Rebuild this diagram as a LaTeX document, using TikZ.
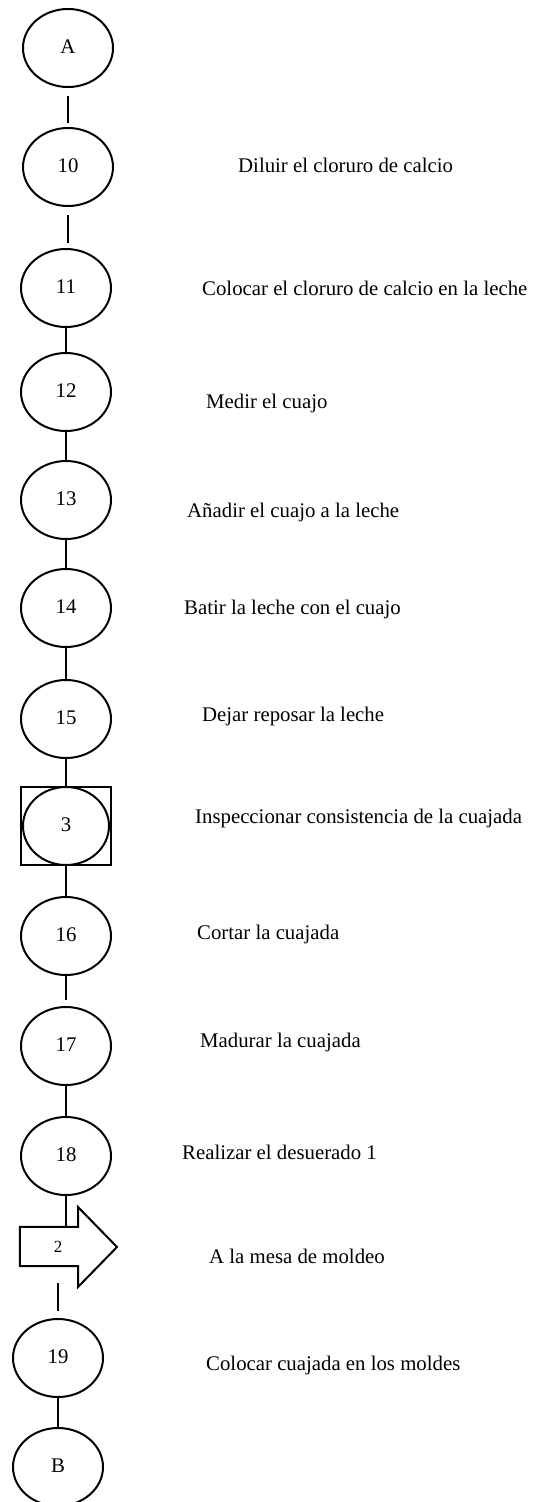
\documentclass[tikz,border=0pt]{standalone}
\usepackage{fontspec}
\setmainfont{Liberation Serif}
\usetikzlibrary{shapes.geometric}
\begin{document}
\begin{tikzpicture}[x=1pt,y=-1pt,
  every node/.style={font=\fontsize{20.8}{25}\selectfont},
  proc/.style={ellipse,draw,line width=2pt,minimum width=90pt,minimum height=78pt,inner sep=0pt,text depth=0.3em},
  insp/.style={rectangle,draw,line width=2pt,minimum width=90pt,minimum height=78pt,inner sep=0pt},
  lbl/.style={anchor=base west,inner sep=0pt},
  conn/.style={line width=2pt}]
\useasboundingbox[fill=white] (0,0) rectangle (536,1502);

% nodes
\node[proc] (A) at (68,48) {A};
\node[proc] (n10) at (68,167) {10};
\node[proc] (n11) at (66,288) {11};
\node[proc] (n12) at (66,392) {12};
\node[proc] (n13) at (66,500) {13};
\node[proc] (n14) at (66,608) {14};
\node[proc] (n15) at (66,719) {15};
\node[insp] (sq3) at (66,826) {};
\node[proc,minimum width=86pt] (n3) at (66,826) {3};
\node[proc] (n16) at (66,936) {16};
\node[proc] (n17) at (66,1046) {17};
\node[proc] (n18) at (66,1156) {18};
\node[inner sep=0pt,minimum width=58pt,minimum height=39pt,font=\fontsize{17}{20}\selectfont] (p2) at (49,1246.5) {\hspace*{18pt}2};
\draw[conn,line join=miter] (p2.north west) -- (p2.north east) -- (78,1207) -- (117,1247) -- (78,1287) -- (p2.south east) -- (p2.south west) -- cycle;
\node[proc] (n19) at (58,1358) {19};
\node[proc] (B) at (58,1467) {B};

% connectors
\draw[conn,shorten <=8pt,shorten >=4pt] (A) -- (n10);
\draw[conn,shorten <=8pt,shorten >=5pt] (n10.south) -- (n10.south |- n11.north);
\draw[conn] (n11) -- (n12);
\draw[conn] (n12) -- (n13);
\draw[conn] (n13) -- (n14);
\draw[conn] (n14) -- (n15);
\draw[conn] (n15) -- (sq3);
\draw[conn] (sq3) -- (n16);
\draw[conn,shorten >=6pt] (n16) -- (n17);
\draw[conn] (n17) -- (n18);
\draw[conn] (n18.south) -- (n18.south |- p2.north);
\draw[conn,shorten <=17pt,shorten >=7pt] (n19.north |- p2.south) -- (n19.north);
\draw[conn] (n19) -- (B);

% labels
\node[lbl] (t10) at (238,172) {Diluir el cloruro de calcio};
\node[lbl] (t11) at (202,295) {Colocar el cloruro de calcio en la leche};
\node[lbl] (t12) at (206,408) {Medir el cuajo};
\node[lbl] (t13) at (187,517) {Añadir el cuajo a la leche};
\node[lbl] (t14) at (184,614) {Batir la leche con el cuajo};
\node[lbl] (t15) at (202,721) {Dejar reposar la leche};
\node[lbl] (t3) at (195,823) {Inspeccionar consistencia de la cuajada};
\node[lbl] (t16) at (197,939) {Cortar la cuajada};
\node[lbl] (t17) at (200,1047) {Madurar la cuajada};
\node[lbl] (t18) at (182,1159) {Realizar el desuerado 1};
\node[lbl] (t2) at (209,1263) {A la mesa de moldeo};
\node[lbl] (t19) at (206,1370) {Colocar cuajada en los moldes};
\end{tikzpicture}
\end{document}
